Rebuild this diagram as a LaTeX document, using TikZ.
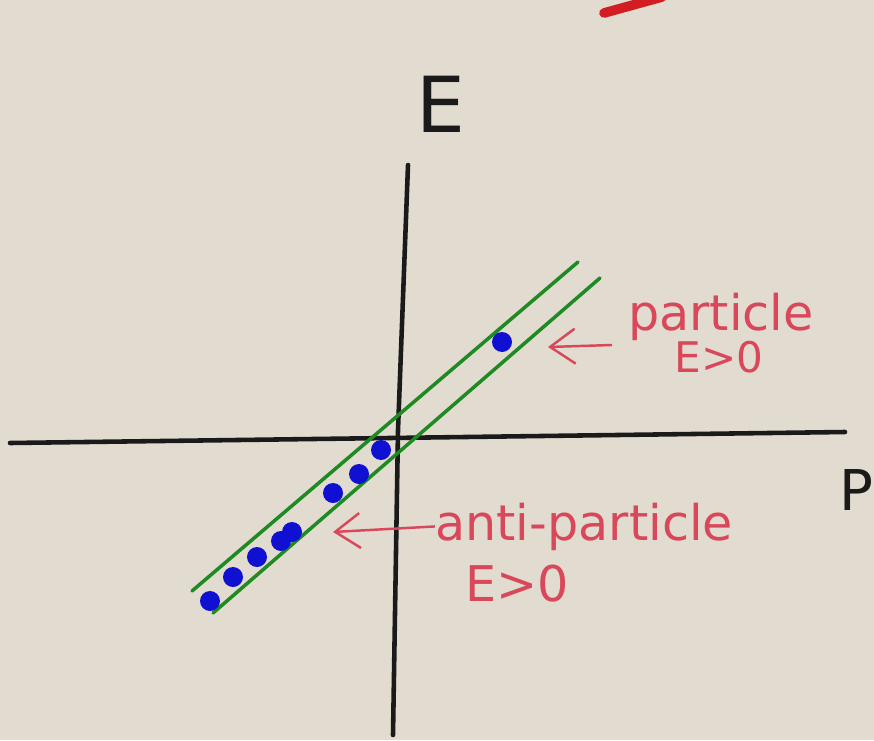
\documentclass[tikz,border=0pt]{standalone}
\usepackage{fontspec}
\setmainfont{DejaVu Sans}
\usetikzlibrary{arrows.meta,positioning}
\definecolor{paper}{HTML}{E2DCD0}
\definecolor{marker}{HTML}{D9485A}
\definecolor{topred}{HTML}{D21E22}
\definecolor{band}{HTML}{1F8A22}
\definecolor{dotblue}{HTML}{1010D2}
\definecolor{ink}{HTML}{1A1A1A}
\tikzset{
axis/.style={draw=ink,line width=2.6pt,line cap=round,line join=round},
bandline/.style={draw=band,line width=2pt,line cap=round},
note/.style={text=marker,inner sep=0pt,font=\fontsize{28}{30}\selectfont},
axlabel/.style={text=ink,inner sep=0pt},
arr/.style={-{Straight Barb[length=5mm,width=7mm]},draw=marker,line width=1.4pt}}

\begin{document}
\begin{tikzpicture}[x=0.02cm,y=-0.02cm]
\fill[paper] (0,0) rectangle (874,740);
\useasboundingbox (0,0) rectangle (874,740);
% stroke cut off at the top
\draw[topred,line width=5.5pt,line cap=round] (604,13) -- (662,-3);
% axes
\coordinate (etop) at (408,165);
\coordinate (emid) at (398,430);
\coordinate (ebot) at (393,735);
\coordinate (pleft) at (10,443);
\coordinate (pright) at (845,432);
\draw[axis] (etop)--(emid)--(ebot);
\draw[axis] (pleft)--(pright);
\node[axlabel,anchor=base west,font=\fontsize{44}{46}\selectfont] (elab) at (416,132) {E};
\node[axlabel,anchor=base east,font=\fontsize{32}{34}\selectfont] (plab) at (874,510) {P};
% band
\draw[bandline] (192,591)--(578,262);
\draw[bandline] (213,613)--(600,278);
\foreach \x/\y in {502/342,210/601,233/577,257/557,281/541,292/532,333/493,359/474,381/450}
  \fill[dotblue] (\x,\y) circle (0.2cm);
% labels
\node[note,anchor=base west] (ptxt) at (628,330) {particle};
\node[note,font=\fontsize{24}{26}\selectfont] (pcond) at (719,357) {E>0};
\coordinate (ptip) at (548,347);
\draw[arr] ([shift={(-0.32cm,-0.3cm)}]ptxt.base west)--(ptip);
\node[note,anchor=base west] (atxt) at (435,540) {anti-particle};
\node[note] (acond) at (517,584) {E>0};
\coordinate (atip) at (333,532);
\draw[arr] (atxt.west)--(atip);
\end{tikzpicture}
\end{document}
